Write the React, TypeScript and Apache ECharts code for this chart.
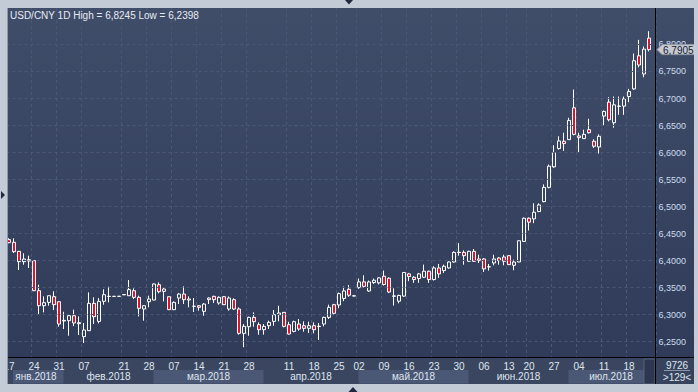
import { useEffect, useRef } from "react";
import * as echarts from "echarts";

// ---------- data ----------
const startDate = "2018-01-17";
const endDate = "2018-07-24";
const holidays = ["2018-02-15", "2018-02-16", "2018-04-05", "2018-04-06", "2018-05-01", "2018-06-18"];

const tickDates = [
  "2018-01-17", "2018-01-24", "2018-01-31", "2018-02-07", "2018-02-21", "2018-02-28",
  "2018-03-07", "2018-03-14", "2018-03-21", "2018-03-28", "2018-04-11", "2018-04-18",
  "2018-04-25", "2018-05-02", "2018-05-09", "2018-05-16", "2018-05-23", "2018-05-30",
  "2018-06-06", "2018-06-13", "2018-06-20", "2018-06-27", "2018-07-04", "2018-07-11", "2018-07-18",
];

const yTicks = [6.25, 6.3, 6.35, 6.4, 6.45, 6.5, 6.55, 6.6, 6.65, 6.7, 6.75, 6.8];

const monthKeys = ["2018-01", "2018-02", "2018-03", "2018-04", "2018-05", "2018-06", "2018-07"];
const monthLabels = ["янв.2018", "фев.2018", "мар.2018", "апр.2018", "май.2018", "июн.2018", "июл.2018"];

// [open, close, low, high]
const ohlc: number[][] = [
  [6.4389, 6.4333, 6.4321, 6.4414], [6.4339, 6.4166, 6.4141, 6.4413], [6.4172, 6.3981, 6.3827, 6.418],
  [6.3981, 6.403, 6.3925, 6.4135], [6.3993, 6.4018, 6.3864, 6.4092], [6.4, 6.3444, 6.344, 6.4005],
  [6.3444, 6.3166, 6.3012, 6.3555], [6.3166, 6.3222, 6.3043, 6.3339], [6.3228, 6.3351, 6.3166, 6.3355],
  [6.3333, 6.3185, 6.3086, 6.3432], [6.324, 6.2827, 6.2778, 6.3245], [6.2883, 6.2895, 6.2734, 6.3055],
  [6.2889, 6.2981, 6.2611, 6.3], [6.2981, 6.2846, 6.279, 6.3093], [6.2852, 6.2833, 6.2623, 6.2969],
  [6.2593, 6.2716, 6.2475, 6.2846], [6.2704, 6.321, 6.27, 6.3413], [6.321, 6.2963, 6.2827, 6.3321],
  [6.2876, 6.3247, 6.2839, 6.3308], [6.3247, 6.337, 6.3185, 6.3469], [6.3337, 6.3341, 6.3228, 6.3518],
  [6.3338, 6.334, 6.3336, 6.3342], [6.3339, 6.3341, 6.3337, 6.3343], [6.3368, 6.3372, 6.3366, 6.3374],
  [6.3351, 6.3463, 6.3348, 6.3642], [6.3444, 6.3321, 6.329, 6.3487], [6.3321, 6.3117, 6.2969, 6.3351],
  [6.3105, 6.3166, 6.2889, 6.317], [6.324, 6.329, 6.3136, 6.3351], [6.3271, 6.3568, 6.3268, 6.358],
  [6.3555, 6.3426, 6.3395, 6.3598], [6.3432, 6.3475, 6.3247, 6.3494], [6.3333, 6.3093, 6.3086, 6.3339],
  [6.3093, 6.3228, 6.3086, 6.3247], [6.3308, 6.3382, 6.3197, 6.3395], [6.3382, 6.3278, 6.3197, 6.3524],
  [6.3271, 6.329, 6.3136, 6.3339], [6.3154, 6.3157, 6.305, 6.3308], [6.3166, 6.3136, 6.3074, 6.3179],
  [6.3062, 6.3197, 6.2981, 6.3216], [6.3278, 6.3308, 6.3197, 6.3321], [6.3339, 6.3278, 6.3216, 6.3351],
  [6.3216, 6.3321, 6.3185, 6.3339], [6.3333, 6.3185, 6.3179, 6.3339], [6.3105, 6.3308, 6.3074, 6.3339],
  [6.3278, 6.3105, 6.3086, 6.3302], [6.3105, 6.2654, 6.263, 6.3136], [6.2654, 6.2784, 6.2398, 6.2827],
  [6.2778, 6.295, 6.2611, 6.2963], [6.295, 6.287, 6.2778, 6.3043], [6.2815, 6.2722, 6.263, 6.2858],
  [6.2722, 6.2784, 6.263, 6.2827], [6.2796, 6.2858, 6.2734, 6.2889], [6.2876, 6.3, 6.2796, 6.3086],
  [6.3, 6.3031, 6.2876, 6.3166], [6.3043, 6.2784, 6.2765, 6.3049], [6.2815, 6.2642, 6.263, 6.287],
  [6.2691, 6.287, 6.2673, 6.2889], [6.2827, 6.2734, 6.2704, 6.292], [6.2796, 6.2747, 6.2685, 6.2876],
  [6.2747, 6.2796, 6.266, 6.287], [6.2796, 6.2722, 6.2654, 6.2858], [6.278, 6.2786, 6.2531, 6.2846],
  [6.2827, 6.295, 6.2784, 6.2963], [6.295, 6.3136, 6.292, 6.3185], [6.3185, 6.3025, 6.3, 6.32],
  [6.318, 6.339, 6.312, 6.341], [6.33, 6.344, 6.325, 6.352], [6.347, 6.336, 6.333, 6.355],
  [6.3345, 6.335, 6.334, 6.336], [6.35, 6.3607, 6.348, 6.3669], [6.3607, 6.3525, 6.35, 6.373],
  [6.3438, 6.3606, 6.342, 6.3632], [6.3594, 6.3638, 6.357, 6.3669], [6.3589, 6.3681, 6.356, 6.3693],
  [6.3712, 6.3558, 6.354, 6.3816], [6.3675, 6.3419, 6.34, 6.369], [6.334, 6.3348, 6.3169, 6.3488],
  [6.325, 6.3356, 6.321, 6.337], [6.3344, 6.3781, 6.333, 6.3785], [6.3755, 6.3706, 6.362, 6.3773],
  [6.3693, 6.365, 6.3589, 6.3712], [6.3669, 6.3755, 6.3589, 6.3773], [6.3693, 6.3804, 6.3681, 6.3926],
  [6.3804, 6.365, 6.3589, 6.3816], [6.365, 6.3865, 6.3632, 6.3896], [6.3865, 6.3755, 6.3681, 6.3939],
  [6.3816, 6.3896, 6.3773, 6.3926], [6.3865, 6.3975, 6.3853, 6.3988], [6.3975, 6.4153, 6.3963, 6.4172],
  [6.415, 6.4156, 6.4092, 6.4325], [6.4153, 6.4092, 6.3926, 6.419], [6.3988, 6.4172, 6.3985, 6.4184],
  [6.4172, 6.3988, 6.3975, 6.4215], [6.4031, 6.4, 6.3957, 6.411], [6.4031, 6.3847, 6.3791, 6.4049],
  [6.3884, 6.3887, 6.3816, 6.3939], [6.3957, 6.4031, 6.3914, 6.411], [6.4049, 6.4, 6.3926, 6.4067],
  [6.4067, 6.3988, 6.3914, 6.411], [6.4092, 6.3926, 6.3923, 6.4095], [6.3914, 6.3975, 6.3822, 6.4018],
  [6.3975, 6.4368, 6.3972, 6.437], [6.4356, 6.4785, 6.4344, 6.4798], [6.4785, 6.4712, 6.4558, 6.4798],
  [6.4773, 6.4896, 6.4693, 6.5061], [6.4908, 6.5031, 6.4896, 6.5061], [6.5092, 6.5356, 6.508, 6.5411],
  [6.5356, 6.5748, 6.5337, 6.5779], [6.5736, 6.6, 6.5718, 6.6135], [6.6074, 6.6215, 6.6055, 6.6301],
  [6.6209, 6.6166, 6.6031, 6.6368], [6.6239, 6.6595, 6.6236, 6.6644], [6.6828, 6.6337, 6.6319, 6.7166],
  [6.6307, 6.6276, 6.6, 6.6368], [6.6258, 6.6337, 6.6255, 6.6423], [6.6423, 6.6368, 6.635, 6.6626],
  [6.6209, 6.6117, 6.6086, 6.6245], [6.6104, 6.6301, 6.5982, 6.6337], [6.6675, 6.6761, 6.6503, 6.6779],
  [6.6933, 6.6607, 6.6577, 6.7025], [6.6552, 6.6883, 6.646, 6.7037], [6.6856, 6.686, 6.6699, 6.7037],
  [6.6859, 6.6994, 6.6699, 6.7037], [6.7037, 6.7129, 6.6933, 6.7178], [6.7178, 6.7699, 6.716, 6.7834],
  [6.7791, 6.762, 6.7577, 6.8086], [6.7454, 6.7914, 6.7393, 6.7963], [6.8117, 6.7905, 6.7871, 6.8245],
];

const cornerValue = "9726";

function buildDates(): string[] {
  const out: string[] = [];
  const d = new Date(startDate + "T00:00:00Z");
  const end = new Date(endDate + "T00:00:00Z");
  while (d.getTime() <= end.getTime()) {
    const wd = d.getUTCDay();
    const s = d.toISOString().slice(0, 10);
    if (wd !== 0 && wd !== 6 && holidays.indexOf(s) < 0) out.push(s);
    d.setUTCDate(d.getUTCDate() + 1);
  }
  return out;
}

const FONT = "'Liberation Sans', Arial, sans-serif";
const fmt = (v: number) => v.toFixed(4).replace(".", ",");

function txt(text: string, x: number, y: number, opts: any = {}) {
  const align = opts.align || "left";
  return {
    type: "text",
    x,
    y,
    z: opts.z ?? 20,
    silent: true,
    style: {
      text,
      fill: opts.fill || "#dfe5ef",
      font: `${opts.size || 10}px ${FONT}`,
      align,
      textAlign: align,
      verticalAlign: "middle",
      textVerticalAlign: "middle",
    },
  };
}

export default function App() {
  const ref = useRef<HTMLDivElement>(null);

  useEffect(() => {
    document.body.style.margin = "0";
    const chart = echarts.init(ref.current!, null, { renderer: "svg" });
    const dates = buildDates();
    const cats = [...dates, ""];
    const tickSet = new Set(tickDates);
    const isTick = (_i: number, v: string) => tickSet.has(v);
    const highs = ohlc.map((r) => r[3]);
    const lows = ohlc.map((r) => r[2]);
    const title = `USD/CNY 1D High = ${fmt(Math.max(...highs))} Low = ${fmt(Math.min(...lows))}`;
    const gridLine = "#4a5776";
    const yLabelSet = new Set(yTicks.map((v) => v.toFixed(4)));

    chart.setOption({
      animation: false,
      backgroundColor: "transparent",
      grid: { left: 6.5, top: 8, width: 650, bottom: 35 },
      xAxis: {
        type: "category",
        data: cats,
        boundaryGap: true,
        z: 3,
        axisLine: { show: false },
        axisTick: { show: false },
        axisLabel: {
          interval: isTick,
          formatter: (v: string) => (v ? v.slice(8) : ""),
          color: "#dfe5ef",
          fontSize: 10,
          fontFamily: FONT,
          margin: 4,
        },
        splitLine: { show: true, interval: isTick, lineStyle: { color: gridLine, type: [3, 3], width: 1 } },
      },
      yAxis: {
        type: "value",
        position: "right",
        min: 6.2217,
        max: 6.8675,
        splitNumber: 13,
        z: 3,
        axisLine: { show: false },
        axisTick: { show: false },
        axisLabel: {
          color: "#cddcf0",
          fontSize: 9,
          fontFamily: FONT,
          margin: 2,
          formatter: (v: number) => (yLabelSet.has(v.toFixed(4)) ? fmt(v) : ""),
          showMinLabel: false,
          showMaxLabel: false,
        },
        splitLine: { show: false },
      },
      series: [
        {
          type: "line",
          data: [],
          z: 1,
          silent: true,
          markLine: {
            silent: true,
            symbol: ["none", "none"],
            label: { show: false },
            lineStyle: { color: gridLine, type: [3, 3], width: 1 },
            emphasis: { disabled: true },
            data: yTicks.map((v) => ({ yAxis: v })),
          },
        },
        {
          type: "candlestick",
          data: ohlc,
          barWidth: 3,
          z: 4,
          itemStyle: {
            color: "rgba(0,0,0,0)",
            color0: "#e2122c",
            borderColor: "#ffffff",
            borderColor0: "#ffffff",
            borderWidth: 1,
          },
        },
      ],
    });

    const px = (i: number) => chart.convertToPixel({ xAxisIndex: 0 }, i) as number;
    const half = (px(1) - px(0)) / 2;
    const lastClose = ohlc[ohlc.length - 1][1];
    const py = chart.convertToPixel({ yAxisIndex: 0 }, lastClose) as number;

    const els: any[] = [];
    const frame = "#c3cbd7";
    els.push({ type: "rect", shape: { x: 8, y: 358, width: 647, height: 26 }, style: { fill: "#3a4660" }, z: 1, silent: true });
    els.push({ type: "rect", shape: { x: 656, y: 358, width: 38, height: 26 }, style: { fill: "#37435d" }, z: 1, silent: true });

    monthKeys.forEach((k, m) => {
      const idx: number[] = [];
      dates.forEach((d, i) => {
        if (d.startsWith(k)) idx.push(i);
      });
      if (!idx.length) return;
      const x0 = Math.max(px(idx[0]) - half + 2, 8);
      const x1raw = px(idx[idx.length - 1]) + half + 2;
      const x1 = Math.min(x1raw, 644);
      const bx0 = m === 0 ? Math.max(x0, 13) : x0;
      if (m % 2 === 0) {
        els.push({ type: "rect", shape: { x: bx0, y: 370, width: x1 - bx0, height: 13.5 }, style: { fill: "#4a5775" }, z: 2, silent: true });
      }
      els.push(txt(monthLabels[m], (x0 + Math.min(x1raw, 655)) / 2, 376.5, { align: "center", z: 6 }));
    });

    // scroll thumb
    els.push({ type: "rect", shape: { x: 644, y: 359, width: 11, height: 25 }, style: { fill: "#2d3850", stroke: "#56627c", lineWidth: 1 }, z: 3, silent: true });

    // black separators
    els.push({ type: "line", shape: { x1: 8, y1: 357.5, x2: 694, y2: 357.5 }, style: { stroke: "#000", lineWidth: 1 }, z: 10, silent: true });
    els.push({ type: "line", shape: { x1: 655.5, y1: 8, x2: 655.5, y2: 384 }, style: { stroke: "#000", lineWidth: 1 }, z: 10, silent: true });

    // corner box
    els.push(txt(cornerValue, 677, 365.5, { align: "center", z: 10 }));
    els.push({ type: "line", shape: { x1: 664, y1: 370.5, x2: 690, y2: 370.5 }, style: { stroke: "#8a94a8", lineWidth: 1 }, z: 10, silent: true });
    els.push(txt(`>${ohlc.length}<`, 677, 377.5, { align: "center", z: 10 }));

    // title
    els.push(txt(title, 10, 15, { z: 20, fill: "#e6ebf3", size: 10 }));

    // price marker
    els.push({
      type: "polygon",
      shape: { points: [[657, py], [662, py - 5], [695, py - 5], [695, py + 5], [662, py + 5]] },
      style: { fill: "#c5cad3", stroke: "#8f97a5", lineWidth: 1 },
      z: 30,
      silent: true,
    });
    els.push(txt(fmt(lastClose), 663, py + 0.5, { z: 31, fill: "#1a2030", size: 10 }));

    // outer frame
    els.push({ type: "rect", shape: { x: 0, y: 0, width: 698, height: 8 }, style: { fill: frame }, z: 50, silent: true });
    els.push({ type: "rect", shape: { x: 0, y: 0, width: 8, height: 392 }, style: { fill: frame }, z: 50, silent: true });
    els.push({ type: "rect", shape: { x: 0, y: 384, width: 698, height: 8 }, style: { fill: frame }, z: 50, silent: true });
    els.push({ type: "rect", shape: { x: 694, y: 0, width: 4, height: 392 }, style: { fill: frame }, z: 50, silent: true });
    els.push({ type: "line", shape: { x1: 7.5, y1: 8, x2: 7.5, y2: 384 }, style: { stroke: "#8e98a8", lineWidth: 1 }, z: 51, silent: true });
    els.push({ type: "polygon", shape: { points: [[345, 0], [353, 0], [349, 4.5]] }, style: { fill: "#1f2a3f" }, z: 52, silent: true });
    els.push({ type: "polygon", shape: { points: [[1, 191], [1, 199], [5, 195]] }, style: { fill: "#1f2a3f" }, z: 52, silent: true });
    els.push({ type: "polygon", shape: { points: [[348.5, 392], [357.5, 392], [353, 387]] }, style: { fill: "#1f2a3f" }, z: 52, silent: true });

    chart.setOption({ graphic: { elements: els } });

    return () => chart.dispose();
  }, []);

  return (
    <div style={{ position: "fixed", left: 0, top: 0, width: 698, height: 392, background: "#c3cbd7" }}>
      <div
        style={{
          position: "absolute",
          left: 8,
          top: 8,
          width: 686,
          height: 376,
          background: "linear-gradient(#404d69, #2e3a57)",
        }}
      />
      <div ref={ref} style={{ position: "absolute", left: 0, top: 0, width: 698, height: 392 }} />
    </div>
  );
}
